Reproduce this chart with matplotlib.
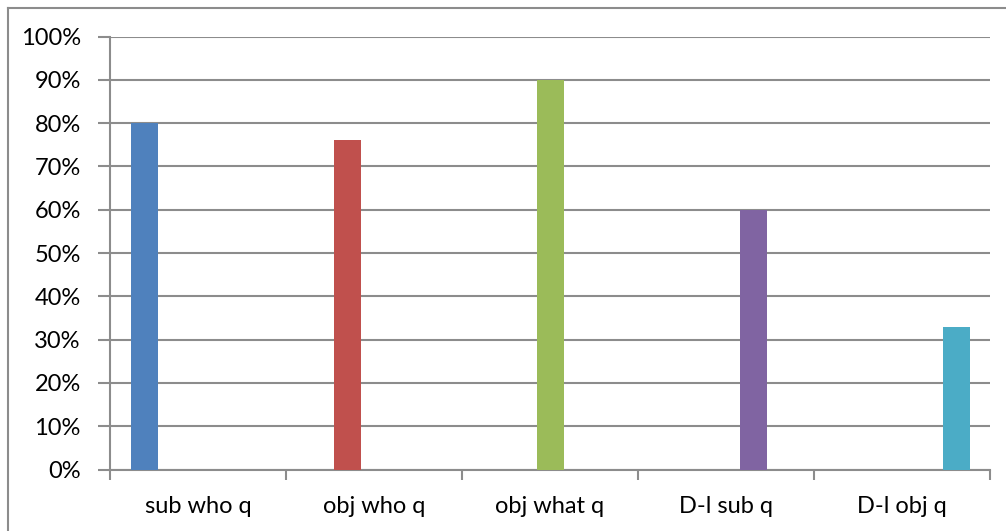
import matplotlib
matplotlib.use("Agg")
import matplotlib.pyplot as plt
from matplotlib.ticker import PercentFormatter
from matplotlib.lines import Line2D
import numpy as np

categories = ["sub who q", "obj who q", "obj what q", "D-l sub q", "D-l obj q"]
values = [0.80, 0.76, 0.90, 0.60, 0.33]
colors = ["#4F81BD", "#C0504D", "#9BBB59", "#8064A2", "#4BACC6"]
yticks = np.arange(0, 1.01, 0.1)

plt.rcParams['font.family'] = ['Lato', 'DejaVu Sans']

fig = plt.figure(figsize=(10.06, 5.31), dpi=100)
ax = fig.add_axes([110 / 1006, 1 - 469.5 / 531, 880 / 1006, 433 / 531])

# each series sits in its own slot of a 5-bar cluster (Excel-style)
n = len(categories)
w = 27 / 176
gap = (1 - n * w) / 2
for i, (v, c) in enumerate(zip(values, colors)):
    ax.bar(i + gap + (i + 0.5) * w, v, width=w, color=c, zorder=3)

ax.set_xlim(0, n)
ax.set_ylim(0, 1)
ax.set_yticks(yticks)
ax.yaxis.set_major_formatter(PercentFormatter(1.0, decimals=0))
ax.set_xticks(np.arange(n + 1))
ax.set_xticklabels([])
ax.set_xticks(np.arange(n) + 0.5, minor=True)
ax.set_xticklabels(categories, minor=True)
ax.tick_params(axis='x', which='minor', length=0, pad=19, labelsize=17)
ax.tick_params(axis='x', which='major', length=7, width=1.5, color='#8c8c8c', direction='out')
ax.tick_params(axis='y', length=9, width=1.5, color='#8c8c8c', labelsize=17, pad=12)
ax.grid(axis='y', color='#8c8c8c', linewidth=1.5, zorder=0)
for s in ['top', 'right']:
    ax.spines[s].set_visible(False)
for s in ['left', 'bottom']:
    ax.spines[s].set_color('#8c8c8c')
    ax.spines[s].set_linewidth(1.5)

# outer chart border (left and top visible)
fig.add_artist(Line2D([8 / 1006, 8 / 1006], [0, 1 - 7.5 / 531], color='#8c8c8c', lw=1.5))
fig.add_artist(Line2D([8 / 1006, 1], [1 - 7.5 / 531, 1 - 7.5 / 531], color='#8c8c8c', lw=1.5))

fig.savefig("out.png", dpi=100)
